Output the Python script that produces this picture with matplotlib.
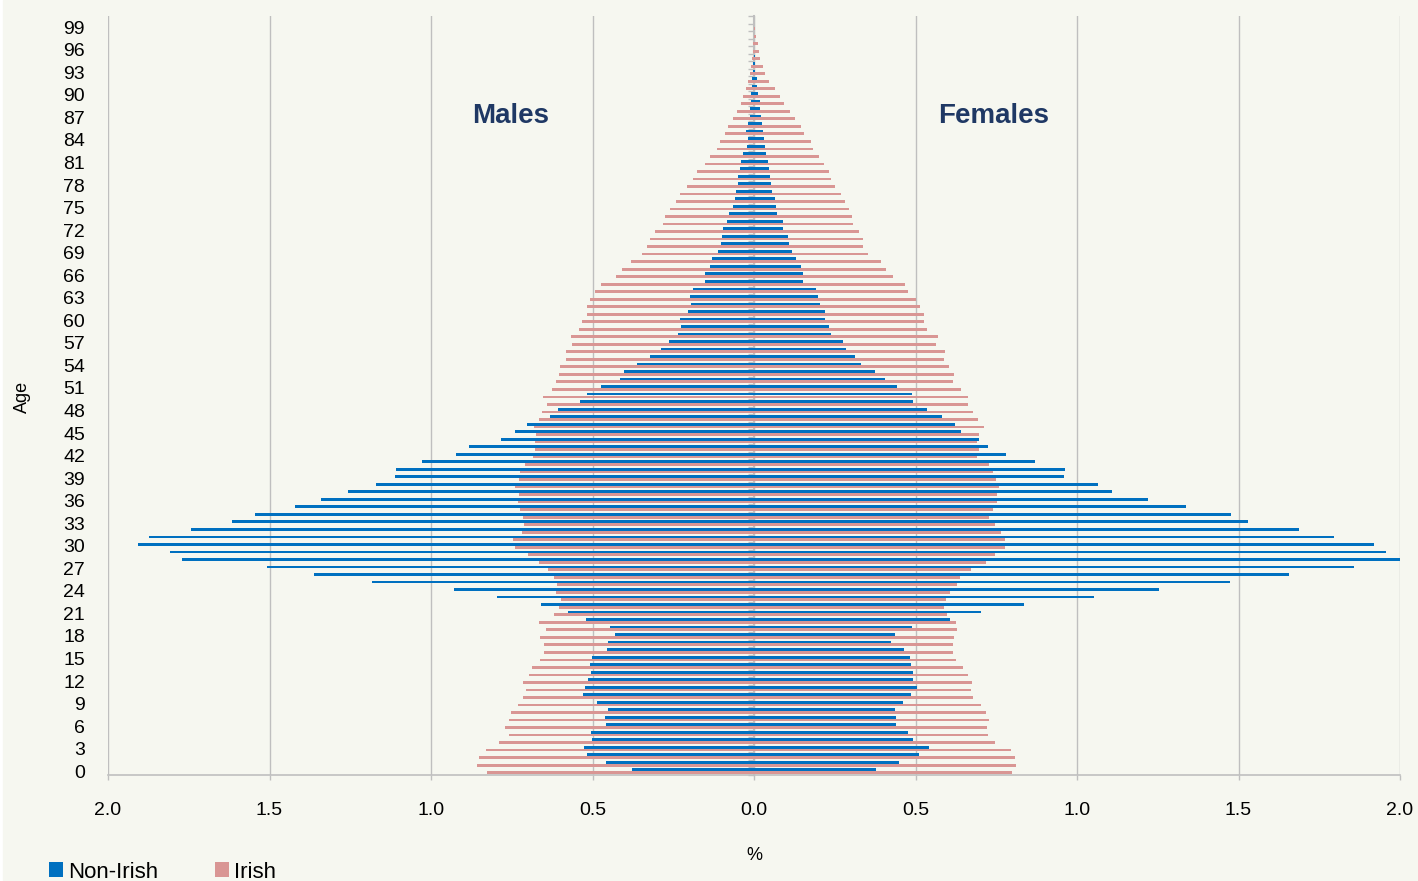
import numpy as np
import matplotlib

matplotlib.use("Agg")
import matplotlib.pyplot as plt
from matplotlib.patches import Rectangle
from matplotlib.ticker import FuncFormatter

# single years of age, 0..99 (one empty slot on top for 100+)
ages = np.arange(100)

# % of total population
male_non_irish = [
    0.378, 0.459, 0.518, 0.527, 0.501, 0.506, 0.459, 0.461, 0.452, 0.485,
    0.528, 0.524, 0.513, 0.504, 0.509, 0.501, 0.456, 0.453, 0.429, 0.447,
    0.521, 0.575, 0.659, 0.795, 0.929, 1.184, 1.362, 1.509, 1.770, 1.809,
    1.907, 1.874, 1.742, 1.617, 1.545, 1.422, 1.341, 1.256, 1.171, 1.113,
    1.109, 1.027, 0.924, 0.883, 0.783, 0.741, 0.704, 0.633, 0.608, 0.540,
    0.516, 0.475, 0.414, 0.402, 0.361, 0.323, 0.288, 0.264, 0.234, 0.227,
    0.228, 0.203, 0.194, 0.198, 0.190, 0.151, 0.151, 0.136, 0.130, 0.113,
    0.101, 0.099, 0.097, 0.084, 0.078, 0.064, 0.058, 0.055, 0.049, 0.048,
    0.042, 0.040, 0.035, 0.023, 0.018, 0.025, 0.019, 0.013, 0.011, 0.010,
    0.009, 0.007, 0.005, 0.003, 0.002, 0.001, 0.001, 0.000, 0.000, 0.000,
]
male_irish = [
    0.828, 0.857, 0.851, 0.831, 0.788, 0.758, 0.771, 0.758, 0.752, 0.731,
    0.714, 0.705, 0.714, 0.698, 0.686, 0.663, 0.650, 0.650, 0.662, 0.644,
    0.666, 0.620, 0.605, 0.599, 0.612, 0.609, 0.620, 0.638, 0.666, 0.699,
    0.740, 0.746, 0.719, 0.711, 0.716, 0.725, 0.731, 0.728, 0.741, 0.728,
    0.724, 0.708, 0.685, 0.677, 0.678, 0.674, 0.680, 0.667, 0.655, 0.642,
    0.652, 0.625, 0.613, 0.603, 0.600, 0.583, 0.582, 0.565, 0.568, 0.543,
    0.534, 0.518, 0.518, 0.508, 0.491, 0.473, 0.426, 0.409, 0.380, 0.347,
    0.330, 0.322, 0.305, 0.281, 0.275, 0.259, 0.242, 0.228, 0.206, 0.189,
    0.178, 0.153, 0.135, 0.116, 0.105, 0.090, 0.079, 0.064, 0.054, 0.041,
    0.033, 0.026, 0.019, 0.011, 0.009, 0.007, 0.004, 0.002, 0.001, 0.000,
]
female_non_irish = [
    0.378, 0.450, 0.510, 0.541, 0.493, 0.478, 0.441, 0.439, 0.437, 0.462,
    0.486, 0.506, 0.492, 0.493, 0.486, 0.484, 0.463, 0.425, 0.438, 0.488,
    0.607, 0.703, 0.835, 1.053, 1.253, 1.474, 1.657, 1.858, 2.000, 1.956,
    1.918, 1.796, 1.688, 1.530, 1.478, 1.338, 1.220, 1.108, 1.065, 0.960,
    0.964, 0.870, 0.780, 0.725, 0.697, 0.641, 0.621, 0.581, 0.536, 0.491,
    0.488, 0.443, 0.406, 0.374, 0.331, 0.314, 0.284, 0.275, 0.238, 0.233,
    0.221, 0.219, 0.203, 0.199, 0.191, 0.151, 0.152, 0.145, 0.131, 0.118,
    0.107, 0.106, 0.091, 0.091, 0.072, 0.067, 0.065, 0.057, 0.052, 0.050,
    0.047, 0.043, 0.038, 0.033, 0.032, 0.029, 0.026, 0.021, 0.020, 0.019,
    0.012, 0.009, 0.009, 0.003, 0.002, 0.004, 0.001, 0.000, 0.000, 0.000,
]
female_irish = [
    0.798, 0.812, 0.808, 0.796, 0.747, 0.723, 0.722, 0.727, 0.719, 0.703,
    0.679, 0.672, 0.676, 0.663, 0.648, 0.624, 0.616, 0.616, 0.620, 0.628,
    0.626, 0.597, 0.589, 0.593, 0.608, 0.627, 0.638, 0.672, 0.717, 0.745,
    0.778, 0.776, 0.766, 0.746, 0.729, 0.741, 0.753, 0.753, 0.760, 0.750,
    0.741, 0.728, 0.689, 0.698, 0.690, 0.697, 0.711, 0.694, 0.677, 0.661,
    0.663, 0.641, 0.617, 0.620, 0.604, 0.589, 0.590, 0.562, 0.570, 0.536,
    0.526, 0.525, 0.514, 0.503, 0.478, 0.467, 0.431, 0.409, 0.392, 0.354,
    0.339, 0.339, 0.326, 0.306, 0.302, 0.295, 0.282, 0.270, 0.251, 0.237,
    0.231, 0.217, 0.201, 0.183, 0.175, 0.156, 0.145, 0.128, 0.112, 0.092,
    0.079, 0.064, 0.047, 0.034, 0.028, 0.020, 0.014, 0.012, 0.006, 0.002,
]

x_ticks = [-2.0, -1.5, -1.0, -0.5, 0.0, 0.5, 1.0, 1.5, 2.0]
y_tick_ages = ages[::3]

BLUE = "#0070C0"
PINK = "#D99694"
GRID = "#BFBFBF"
BG = "#F6F7F0"
NAVY = "#1F3864"

plt.rcParams["font.family"] = ["Liberation Sans", "DejaVu Sans"]

W, H = 1418, 881
fig = plt.figure(figsize=(W / 100, H / 100), dpi=100)
fig.patch.set_facecolor("white")
fig.patches.append(
    Rectangle((3 / W, 0), 1, 1, transform=fig.transFigure, color=BG, zorder=-10)
)

ax = fig.add_axes([108 / W, 1 - 775 / H, 1292 / W, 759 / H])
ax.set_facecolor(BG)

h = 0.37
ax.barh(ages + h / 2, -np.array(male_non_irish), height=h, color=BLUE,
        label="Non-Irish")
ax.barh(ages - h / 2, -np.array(male_irish), height=h, color=PINK,
        label="Irish")
ax.barh(ages + h / 2, female_non_irish, height=h, color=BLUE)
ax.barh(ages - h / 2, female_irish, height=h, color=PINK)

ax.set_xlim(-2, 2)
ax.set_ylim(-0.5, 100.5)
ax.set_xticks(x_ticks)
ax.xaxis.set_major_formatter(FuncFormatter(lambda v, p: f"{abs(v):.1f}"))
ax.set_yticks(y_tick_ages)
ax.set_yticklabels([str(a) for a in y_tick_ages])

ax.grid(axis="x", color=GRID, lw=1)
ax.set_axisbelow(True)
for s in ["left", "top", "right"]:
    ax.spines[s].set_visible(False)
ax.spines["bottom"].set_color(GRID)
ax.spines["bottom"].set_linewidth(1.2)
ax.tick_params(axis="x", length=3.6, width=1, color=GRID, pad=16,
               labelsize=14)
ax.tick_params(axis="y", length=0, pad=16.5, labelsize=14)

# centre axis with a tick between each age
sec = ax.secondary_yaxis(0.5)
sec.set_alignment("left")
sec.set_yticks(np.arange(-0.5, 101, 1))
sec.tick_params(length=4.3, width=1, color=GRID, labelleft=False,
                labelright=False)
sec.spines["left"].set_color(GRID)
sec.spines["left"].set_linewidth(1.5)

ax.text(-0.752, 87.2, "Males", ha="center", va="center", fontsize=20,
        fontweight="bold", color=NAVY)
ax.text(0.741, 87.2, "Females", ha="center", va="center", fontsize=20,
        fontweight="bold", color=NAVY)

fig.text(22 / W, 1 - 397 / H, "Age", rotation=90, ha="center", va="center",
         fontsize=13)
fig.text(754 / W, 1 - 856 / H, "%", ha="center", va="center", fontsize=13)

fig.legend(loc="center left", bbox_to_anchor=(49 / W, 1 - 872 / H), ncol=2,
           frameon=False, fontsize=16, handlelength=0.65, handleheight=0.65,
           handletextpad=0.2, columnspacing=2.55, borderpad=0,
           borderaxespad=0)

fig.savefig("out.png", dpi=100, facecolor=fig.get_facecolor())
